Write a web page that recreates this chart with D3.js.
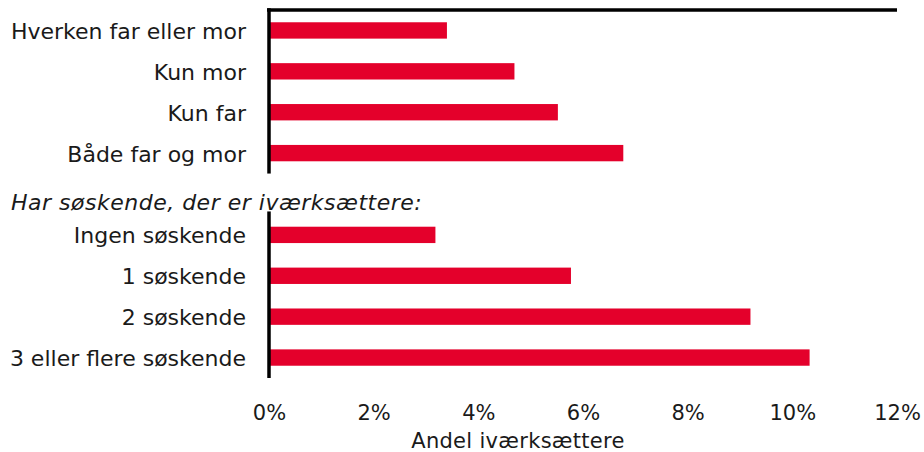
<!DOCTYPE html>
<html>
<head>
<meta charset="utf-8">
<script src="https://cdn.jsdelivr.net/npm/d3@7"></script>
<style>
  html, body { margin: 0; padding: 0; background: #ffffff; }
  svg { display: block; }
  text { font-family: "DejaVu Sans", sans-serif; fill: #1a1a1a; }
</style>
</head>
<body>
<svg id="chart" width="924" height="452"></svg>
<script>
// ---- data ----
const header1 = "Har forældre, der er iværksættere:";
const group1Labels = ["Hverken far eller mor", "Kun mor", "Kun far", "Både far og mor"];
const group1Values = [3.40, 4.69, 5.52, 6.77];
const header2 = "Har søskende, der er iværksættere:";
const group2Labels = ["Ingen søskende", "1 søskende", "2 søskende", "3 eller flere søskende"];
const group2Values = [3.18, 5.77, 9.20, 10.33];
const xTicks = [0, 2, 4, 6, 8, 10, 12];
const xTitle = "Andel iværksættere";

// ---- layout ----
const svg = d3.select("#chart");
const mLeft = 269, mRight = 897, mTop = 10, mBottom = 378;
const slots = [...group1Labels, "__header2__", ...group2Labels];
const y = d3.scaleBand().domain(slots).range([mTop, mBottom]).paddingInner(0.6).paddingOuter(0.3);
const yFull = d3.scaleBand().domain(slots).range([mTop, mBottom]).padding(0);
const x = d3.scaleLinear().domain([0, 12]).range([mLeft, mRight]);

const bars = [
  ...group1Labels.map((l, i) => ({ label: l, value: group1Values[i] })),
  ...group2Labels.map((l, i) => ({ label: l, value: group2Values[i] }))
];
const barColor = "#e4002b";
const labelSize = 22;
const tickSize = 21;

// bars
svg.append("g").selectAll("rect").data(bars).join("rect")
  .attr("x", x(0))
  .attr("y", d => y(d.label))
  .attr("width", d => x(d.value) - x(0))
  .attr("height", y.bandwidth())
  .attr("fill", barColor);

// category labels
svg.append("g").selectAll("text").data(bars).join("text")
  .attr("x", mLeft - 23)
  .attr("y", d => y(d.label) + y.bandwidth() / 2 + 1)
  .attr("text-anchor", "end")
  .attr("dominant-baseline", "central")
  .style("font-size", labelSize + "px")
  .text(d => d.label);

// headers (italic)
svg.append("text")
  .attr("x", 11)
  .attr("y", -2)
  .style("font-size", labelSize + "px")
  .style("font-style", "italic")
  .style("letter-spacing", "0.5px")
  .text(header1);
svg.append("text")
  .attr("x", 11)
  .attr("y", yFull("__header2__") + yFull.bandwidth() / 2 + 16)
  .style("font-size", labelSize + "px")
  .style("font-style", "italic")
  .style("letter-spacing", "0.5px")
  .text(header2);

// top border line
svg.append("line")
  .attr("x1", x(0) - 2).attr("x2", x(12))
  .attr("y1", mTop).attr("y2", mTop)
  .attr("stroke", "#000").attr("stroke-width", 3.5);

// left axis segments, one per group
const seg1Start = mTop - 1.75;
const seg1End = yFull(group1Labels[group1Labels.length - 1]) + yFull.bandwidth();
const seg2Start = yFull(group2Labels[0]) - 3;
const seg2End = mBottom;
[[seg1Start, seg1End], [seg2Start, seg2End]].forEach(([a, b]) => {
  svg.append("line")
    .attr("x1", x(0)).attr("x2", x(0))
    .attr("y1", a).attr("y2", b)
    .attr("stroke", "#000").attr("stroke-width", 3.5);
});

// x axis tick labels
const xAxis = d3.axisBottom(x).tickValues(xTicks).tickSize(0).tickFormat(d => d + "%");
const gx = svg.append("g").attr("transform", `translate(0,${mBottom})`).call(xAxis);
gx.select(".domain").remove();
gx.selectAll("text")
  .attr("y", 42)
  .attr("dy", null)
  .style("font-size", tickSize + "px")
  .style("font-family", '"DejaVu Sans", sans-serif')
  .attr("fill", "#1a1a1a");

// x title
svg.append("text")
  .attr("x", 518)
  .attr("y", 448)
  .attr("text-anchor", "middle")
  .style("font-size", tickSize + "px")
  .style("letter-spacing", "0.3px")
  .text(xTitle);
</script>
</body>
</html>
